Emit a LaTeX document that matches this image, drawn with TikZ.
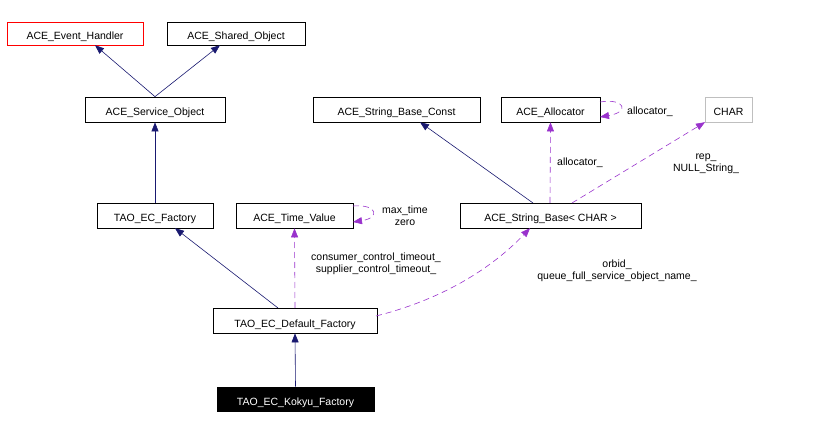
\documentclass[tikz,border=0pt]{standalone}
\usepackage{fontspec}
\setmainfont{Liberation Sans}
\usetikzlibrary{arrows.meta}
\begin{document}
\begin{tikzpicture}[x=1pt,y=1pt,
  box/.style={draw,line width=0.7pt,inner sep=0pt,text height=13pt,text depth=0pt,font=\fontsize{10.5}{12}\selectfont},
  inh/.style={draw={rgb,255:red,25;green,25;blue,112},line width=0.6pt,-{Triangle[length=9pt,width=7pt]}},
  use/.style={draw={rgb,255:red,153;green,50;blue,204},line width=0.6pt,dash pattern=on 6pt off 4pt,-{Triangle[length=9pt,width=7pt]}},
  lab/.style={font=\fontsize{10.5}{12}\selectfont,inner sep=0pt,align=center}]
\useasboundingbox (0,0) rectangle (816,-427);
\node[box,draw=red,minimum width=136,minimum height=23] (eh) at (75,-33.5) {ACE\_Event\_Handler};
\node[box,minimum width=138,minimum height=23] (so) at (236,-33.5) {ACE\_Shared\_Object};
\node[box,minimum width=140,minimum height=25] (svc) at (155,-109.5) {ACE\_Service\_Object};
\node[box,minimum width=167,minimum height=25] (sbc) at (396.5,-109.5) {ACE\_String\_Base\_Const};
\node[box,minimum width=99,minimum height=25] (al) at (550.5,-109.5) {ACE\_Allocator};
\node[box,draw={rgb,255:red,191;green,191;blue,191},minimum width=47,minimum height=25] (ch) at (728.5,-109.5) {CHAR};
\node[box,minimum width=116,minimum height=25] (ecf) at (155,-215.5) {TAO\_EC\_Factory};
\node[box,minimum width=117,minimum height=25] (tv) at (294.5,-215.5) {ACE\_Time\_Value};
\node[box,minimum width=181,minimum height=25] (sb) at (550.5,-215.5) {ACE\_String\_Base< CHAR >};
\node[box,minimum width=164,minimum height=25] (df) at (295,-320.5) {TAO\_EC\_Default\_Factory};
\node[box,fill=black,text=white,minimum width=157,minimum height=24] (kf) at (295.5,-399) {TAO\_EC\_Kokyu\_Factory};
\draw[inh] (svc.north) -- (95,-45.2);
\draw[inh] (svc.north) -- (220,-45.2);
\draw[inh] (ecf.north) -- (svc.south);
\draw[inh] (278,-308) -- (175,-228.2);
\draw[inh] (kf.north) -- (df.south);
\draw[inh] (533,-203) -- (420,-122.2);
\draw[use] (295,-308) -- (tv.south);
\node[lab] (l1) at (376,-264) {consumer\_control\_timeout\_\\supplier\_control\_timeout\_};
\draw[use] (376,-316) .. controls (440,-300) and (490,-270) .. (530,-228.2);
\node[lab] (l2) at (617,-271) {orbid\_\\queue\_full\_service\_object\_name\_};
\draw[use] (550,-203) -- (al.south);
\node[lab] (l3) at (580,-163) {allocator\_};
\draw[use] (572,-203) -- (705,-122.2);
\node[lab] (l4) at (706,-164) {rep\_\\NULL\_String\_};
\draw[use] (600,-102) .. controls (625,-98) and (630,-112) .. (600,-117);
\node[lab] (l5) at (650,-112) {allocator\_};
\draw[use] (353,-206) .. controls (378,-204) and (380,-218) .. (353,-222);
\node[lab] (l6) at (405,-216) {max\_time\\zero};
\end{tikzpicture}
\end{document}
